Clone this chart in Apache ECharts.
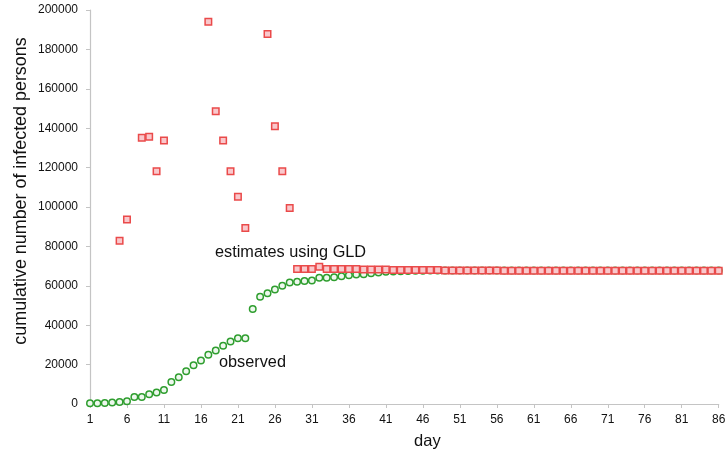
<!DOCTYPE html>
<html>
<head>
<meta charset="utf-8">
<script src="https://cdn.jsdelivr.net/npm/echarts@6/dist/echarts.min.js"></script>
<style>
  html, body { margin: 0; padding: 0; background: #fff; }
  #main { width: 725px; height: 450px; }
</style>
</head>
<body>
<div id="main"></div>
<script>
// day numbers on the x axis
const days = [];
for (let d = 1; d <= 86; d++) days.push(String(d));

// observed cumulative cases, day 1..86
const observed = [
	400, 444, 549, 761, 1058, 1423, 3554, 3554, 4903, 5806,
	7153, 11177, 13522, 16678, 19665, 22112, 24953, 27100, 29631, 31728,
	33366, 33366, 48206, 54406, 56249, 58182, 59989, 61682, 62031, 62442,
	62662, 64084, 64084, 64400, 64900, 65300, 65700, 65914, 66337, 66800,
	67103, 67217, 67332, 67466, 67592, 67666, 67707, 67743, 67760, 67773,
	67781, 67786, 67790, 67794, 67798, 67799, 67800, 67800, 67800, 67801,
	67801, 67801, 67801, 67801, 67801, 67801, 67801, 67801, 67802, 67802,
	67802, 67802, 67802, 67802, 67802, 67802, 67802, 67802, 67803, 67803,
	67803, 67803, 67803, 67803, 67803, 67803,
];

// GLD estimates, "-" where no estimate was drawn
const estimates = [
	"-", "-", "-", "-", 82900, 93700, "-", 135100, 135700, 118200,
	133800, "-", "-", "-", "-", "-", 194000, 148600, 133800, 118200,
	105200, 89300, "-", "-", 187800, 141000, 118200, 99500, 68500, 68500,
	68500, 69700, 68500, 68500, 68500, 68500, 68500, 68300, 68300, 68300,
	68300, 68000, 68000, 68000, 68000, 68000, 68000, 68000, 67800, 67800,
	67800, 67800, 67800, 67800, 67800, 67800, 67700, 67700, 67700, 67700,
	67700, 67700, 67700, 67700, 67700, 67700, 67700, 67700, 67700, 67700,
	67700, 67700, 67700, 67700, 67700, 67700, 67700, 67700, 67700, 67700,
	67700, 67700, 67700, 67700, 67700, 67700,
];

const font = "'Liberation Sans', Arial, sans-serif";
const axisGrey = "#c4c4c4";
const textColor = "#111";

let chart = echarts.init(document.getElementById("main"));

chart.setOption({
	animation: false,
	grid: { left: 90, right: 6.3, top: 10, bottom: 46, outerBoundsMode: "none" },
	xAxis: {
		type: "category",
		data: days,
		boundaryGap: false,
		name: "day",
		nameLocation: "middle",
		nameGap: 29,
		nameTextStyle: { fontFamily: font, fontSize: 16.5, color: textColor, padding: [0, 0, 0, 46] },
		axisLine: { lineStyle: { color: axisGrey, width: 1.2 } },
		axisTick: { interval: 4, length: 4, lineStyle: { color: axisGrey } },
		axisLabel: { interval: 4, margin: 10, fontFamily: font, fontSize: 12, color: textColor },
		splitLine: { show: false },
	},
	yAxis: {
		type: "value",
		min: 0,
		max: 200000,
		interval: 20000,
		axisLine: { show: true, lineStyle: { color: axisGrey, width: 1.2 } },
		axisTick: { show: true, length: 4, lineStyle: { color: axisGrey } },
		axisLabel: {
			margin: 12,
			fontFamily: font,
			fontSize: 12,
			color: textColor,
			formatter: (v) => String(v),
		},
		splitLine: { show: false },
	},
	graphic: [
		{
			type: "text",
			x: 21,
			y: 191,
			rotation: Math.PI / 2,
			style: {
				text: "cumulative number of infected persons",
				fontFamily: font,
				fontSize: 17.9,
				fill: textColor,
				align: "center",
				verticalAlign: "middle",
			},
		},
		{
			type: "text",
			x: 215,
			y: 252.5,
			style: {
				text: "estimates using GLD",
				fontFamily: font,
				fontSize: 16.3,
				fill: textColor,
				align: "left",
				verticalAlign: "middle",
			},
		},
		{
			type: "text",
			x: 219,
			y: 362.5,
			style: {
				text: "observed",
				fontFamily: font,
				fontSize: 16.3,
				fill: textColor,
				align: "left",
				verticalAlign: "middle",
			},
		},
	],
	series: [
		{
			name: "observed",
			type: "scatter",
			symbol: "circle",
			symbolSize: 6.5,
			data: observed,
			itemStyle: { color: "#eef8ee", borderColor: "#2f9e2f", borderWidth: 1.5, opacity: 1 },
		},
		{
			name: "estimates using GLD",
			type: "scatter",
			symbol: "rect",
			symbolSize: 6.5,
			data: estimates,
			itemStyle: { color: "#f9c8cc", borderColor: "#ea4a4a", borderWidth: 1.5, opacity: 1 },
		},
	],
});
</script>
</body>
</html>
